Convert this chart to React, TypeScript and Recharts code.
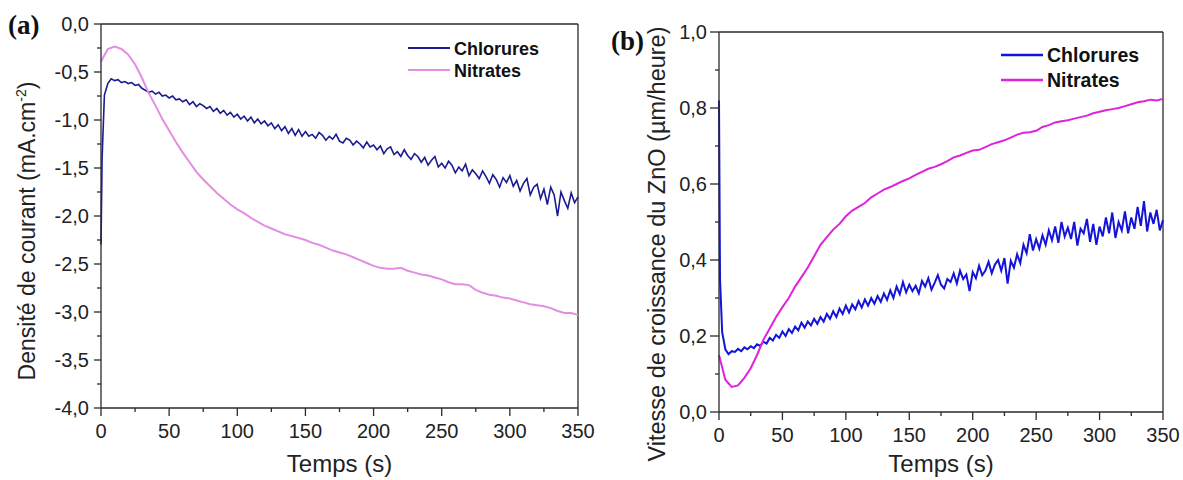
import React from 'react';
import { LineChart, Line, XAxis, YAxis, ReferenceLine, Legend } from 'recharts';

const FONT = 'Arial, "Liberation Sans", Helvetica, sans-serif';
const SERIF = '"Times New Roman", "Liberation Serif", serif';
const AXIS = '#2a2a2a';

// ---------- categories / ticks ----------
const seriesNames = ['Chlorures', 'Nitrates'];
const xTickValues = [0, 25, 50, 75, 100, 125, 150, 175, 200, 225, 250, 275, 300, 325, 350];
const yTickValuesA = [0, -0.25, -0.5, -0.75, -1, -1.25, -1.5, -1.75, -2, -2.25, -2.5, -2.75, -3, -3.25, -3.5, -3.75, -4];
const yTickValuesB = [0, 0.1, 0.2, 0.3, 0.4, 0.5, 0.6, 0.7, 0.8, 0.9, 1];

// sample times (s)
const noisyTimes = [0, 0.8, ...Array.from({ length: 140 }, (_, i) => (i + 1) * 2.5)];
const smoothTimes = Array.from({ length: 71 }, (_, i) => i * 5);

// ---------- (a) current density (mA.cm-2) ----------
const chloruresA = [
  -2.3, -1.4,
  -0.74, -0.62, -0.57, -0.59, -0.58, -0.61, -0.60, -0.62, -0.61, -0.64,
  -0.63, -0.67, -0.69, -0.71, -0.70, -0.73, -0.71, -0.75, -0.74, -0.77,
  -0.75, -0.79, -0.78, -0.81, -0.79, -0.84, -0.81, -0.86, -0.83, -0.85,
  -0.88, -0.86, -0.91, -0.88, -0.93, -0.90, -0.95, -0.92, -0.97, -0.94,
  -0.99, -0.96, -1.01, -0.97, -1.03, -0.99, -1.04, -1.01, -1.06, -1.03,
  -1.09, -1.05, -1.11, -1.07, -1.14, -1.09, -1.16, -1.10, -1.17, -1.12,
  -1.17, -1.15, -1.19, -1.13, -1.16, -1.21, -1.17, -1.20, -1.15, -1.22,
  -1.24, -1.19, -1.21, -1.26, -1.22, -1.25, -1.29, -1.23, -1.28, -1.26,
  -1.31, -1.27, -1.35, -1.30, -1.28, -1.36, -1.33, -1.38, -1.31, -1.37,
  -1.41, -1.35, -1.38, -1.44, -1.39, -1.47, -1.42, -1.38, -1.49, -1.45,
  -1.50, -1.43, -1.47, -1.55, -1.49, -1.53, -1.46, -1.58, -1.52, -1.56,
  -1.61, -1.53, -1.59, -1.66, -1.57, -1.62, -1.70, -1.60, -1.65, -1.58,
  -1.69, -1.63, -1.74, -1.66, -1.61, -1.78, -1.70, -1.67, -1.82, -1.72,
  -1.88, -1.70, -1.78, -2.00, -1.75, -1.84, -1.92, -1.76, -1.86, -1.80,
];

const nitratesA = [
  -0.39, -0.26, -0.235, -0.26, -0.32, -0.42, -0.56, -0.72, -0.85, -0.99,
  -1.11, -1.23, -1.34, -1.44, -1.54, -1.62, -1.69, -1.76, -1.82, -1.88,
  -1.93, -1.97, -2.02, -2.06, -2.10, -2.13, -2.16, -2.19, -2.21, -2.23,
  -2.25, -2.28, -2.30, -2.33, -2.36, -2.38, -2.40, -2.43, -2.46, -2.49,
  -2.52, -2.54, -2.55, -2.55, -2.54, -2.57, -2.59, -2.61, -2.62, -2.64,
  -2.66, -2.69, -2.71, -2.71, -2.72, -2.77, -2.80, -2.82, -2.83, -2.85,
  -2.86, -2.88, -2.90, -2.92, -2.93, -2.94, -2.96, -2.99, -3.01, -3.01,
  -3.03,
];

// ---------- (b) growth rate (µm/heure) ----------
const chloruresB = [
  0.82, 0.35,
  0.21, 0.165, 0.152, 0.160, 0.158, 0.166, 0.160, 0.170, 0.165, 0.173,
  0.168, 0.178, 0.174, 0.185, 0.180, 0.195, 0.188, 0.203, 0.195, 0.212,
  0.200, 0.218, 0.208, 0.225, 0.215, 0.235, 0.222, 0.238, 0.228, 0.245,
  0.232, 0.250, 0.238, 0.258, 0.245, 0.265, 0.250, 0.272, 0.258, 0.280,
  0.262, 0.283, 0.270, 0.292, 0.275, 0.296, 0.280, 0.300, 0.285, 0.305,
  0.290, 0.312, 0.295, 0.320, 0.300, 0.330, 0.310, 0.342, 0.315, 0.335,
  0.318, 0.332, 0.312, 0.345, 0.330, 0.352, 0.322, 0.340, 0.360, 0.335,
  0.325, 0.350, 0.342, 0.365, 0.338, 0.372, 0.350, 0.362, 0.318, 0.368,
  0.352, 0.385, 0.360, 0.372, 0.395, 0.365, 0.388, 0.400, 0.372, 0.405,
  0.338, 0.398, 0.380, 0.415, 0.392, 0.440, 0.418, 0.468, 0.425, 0.455,
  0.430, 0.465, 0.440, 0.478, 0.452, 0.488, 0.445, 0.500, 0.462, 0.485,
  0.455, 0.500, 0.438, 0.482, 0.470, 0.508, 0.448, 0.495, 0.440, 0.488,
  0.462, 0.512, 0.470, 0.525, 0.458, 0.500, 0.478, 0.528, 0.470, 0.512,
  0.482, 0.540, 0.490, 0.555, 0.475, 0.525, 0.495, 0.532, 0.478, 0.505,
];

const nitratesB = [
  0.15, 0.085, 0.066, 0.07, 0.09, 0.115, 0.15, 0.19, 0.22, 0.25,
  0.276, 0.30, 0.33, 0.355, 0.38, 0.41, 0.44, 0.46, 0.48, 0.495,
  0.515, 0.53, 0.54, 0.55, 0.565, 0.575, 0.585, 0.592, 0.60, 0.608,
  0.615, 0.624, 0.632, 0.64, 0.645, 0.652, 0.66, 0.67, 0.675, 0.682,
  0.688, 0.69, 0.697, 0.705, 0.71, 0.715, 0.722, 0.73, 0.735, 0.736,
  0.74, 0.75, 0.755, 0.762, 0.765, 0.768, 0.772, 0.776, 0.78, 0.786,
  0.79, 0.794, 0.797, 0.80, 0.805, 0.81, 0.815, 0.818, 0.822, 0.82,
  0.824,
];

const toData = (ts: number[], vs: number[]) => ts.map((t, i) => ({ t, v: vs[i] }));

const colorsA = ['#1b1b92', '#e38ee3'];
const colorsB = ['#1414d8', '#de22de'];

const fmt = (v: number) => (Math.abs(v) < 1e-9 ? 0 : v).toFixed(1).replace('.', ',');
const isMult = (v: number, s: number) => Math.abs(v / s - Math.round(v / s)) < 1e-6;

const makeXTick = (majorLen: number, minorLen: number) => (props: any) => {
  const { x, y, payload } = props;
  const v = payload.value;
  const major = isMult(v, 50);
  return (
    <g>
      <line x1={x} x2={x} y1={y} y2={y + (major ? majorLen : minorLen)} stroke={AXIS} strokeWidth={1.3} />
      {major && (
        <text x={x} y={y + 30} textAnchor="middle" fontSize={20} fontFamily={FONT} fill="#222">
          {v}
        </text>
      )}
    </g>
  );
};

const makeYTick = (step: number, majorLen: number, minorLen: number) => (props: any) => {
  const { x, y, payload } = props;
  const v = payload.value;
  const major = isMult(v, step);
  return (
    <g>
      <line x1={x - (major ? majorLen : minorLen)} x2={x} y1={y} y2={y} stroke={AXIS} strokeWidth={1.3} />
      {major && (
        <text x={x - 12} y={y + 7} textAnchor="end" fontSize={20} fontFamily={FONT} fill="#222">
          {fmt(v)}
        </text>
      )}
    </g>
  );
};

const XTitle = ({ cx }: any) => (
  <text x={cx} y={472} textAnchor="middle" fontSize={24} fontFamily={FONT} fill="#222">
    Temps (s)
  </text>
);

const YTitleA = () => (
  <text x={35} y={231} transform="rotate(-90 35 231)" textAnchor="middle" fontSize={23} fontFamily={FONT} fill="#222">
    Densité de courant (mA.cm<tspan dy={-9} fontSize={14}>-2</tspan>
    <tspan dy={9}>)</tspan>
  </text>
);

const YTitleB = () => (
  <text x={75} y={244} transform="rotate(-90 75 244)" textAnchor="middle" fontSize={23.5} fontFamily={FONT} fill="#222">
    Vitesse de croissance du ZnO (µm/heure)
  </text>
);

const makeLegend = (colors: string[], lineX: number, lineLen: number, ys: number[], fs: number, sw: number) => () => (
  <svg width={200} height={70} style={{ display: 'block' }}>
    {seriesNames.map((n, i) => (
      <g key={n}>
        <line x1={lineX} x2={lineX + lineLen} y1={ys[i]} y2={ys[i]} stroke={colors[i]} strokeWidth={sw} />
        <text x={lineX + lineLen + 4} y={ys[i] + 7} fontSize={fs} fontWeight="bold" fontFamily={FONT} fill="#111">
          {n}
        </text>
      </g>
    ))}
  </svg>
);

const LegendA = makeLegend(colorsA, 8, 42, [18, 40], 18, 2);
const LegendB = makeLegend(colorsB, 11, 42, [20, 45], 19.5, 2.5);

export default function App() {
  const dataA = [toData(noisyTimes, chloruresA), toData(smoothTimes, nitratesA)];
  const dataB = [toData(noisyTimes, chloruresB), toData(smoothTimes, nitratesB)];
  return (
    <div style={{ position: 'absolute', left: 0, top: 0, width: 1183, height: 480, background: '#fff' }}>
      <div style={{ position: 'absolute', left: 0, top: 0 }}>
        <LineChart width={606} height={480} margin={{ top: 24, right: 28, left: 0, bottom: 0 }}>
          <XAxis
            dataKey="t"
            type="number"
            domain={[0, 350]}
            ticks={xTickValues}
            interval={0}
            height={72}
            tickSize={0}
            tickMargin={0}
            tickLine={false}
            axisLine={{ stroke: AXIS, strokeWidth: 1.3 }}
            tick={makeXTick(8, 4)}
            label={<XTitle cx={339.5} />}
          />
          <YAxis
            type="number"
            domain={[-4, 0]}
            ticks={yTickValuesA}
            interval={0}
            width={101}
            tickSize={0}
            tickMargin={0}
            tickLine={false}
            axisLine={{ stroke: AXIS, strokeWidth: 1.3 }}
            tick={makeYTick(0.5, 7, 4)}
            label={<YTitleA />}
          />
          <ReferenceLine y={0} stroke={AXIS} strokeWidth={1.3} />
          <ReferenceLine x={350} stroke={AXIS} strokeWidth={1.3} />
          {seriesNames.map((n, i) => (
            <Line
              key={n}
              name={n}
              data={dataA[i]}
              dataKey="v"
              type="linear"
              stroke={colorsA[i]}
              strokeWidth={i === 0 ? 1.6 : 2}
              dot={false}
              activeDot={false}
              isAnimationActive={false}
            />
          ))}
          <Legend
            layout="horizontal"
            verticalAlign="middle"
            content={LegendA}
            wrapperStyle={{ position: 'absolute', left: 400, top: 30, width: 200, height: 70 }}
          />
        </LineChart>
      </div>
      <div style={{ position: 'absolute', left: 590, top: 0 }}>
        <LineChart width={593} height={480} margin={{ top: 32, right: 20, left: 0, bottom: 0 }}>
          <XAxis
            dataKey="t"
            type="number"
            domain={[0, 350]}
            ticks={xTickValues}
            interval={0}
            height={68}
            tickSize={0}
            tickMargin={0}
            tickLine={false}
            axisLine={{ stroke: AXIS, strokeWidth: 1.3 }}
            tick={makeXTick(8, 4)}
            label={<XTitle cx={351} />}
          />
          <YAxis
            type="number"
            domain={[0, 1]}
            ticks={yTickValuesB}
            interval={0}
            width={129}
            tickSize={0}
            tickMargin={0}
            tickLine={false}
            axisLine={{ stroke: AXIS, strokeWidth: 1.3 }}
            tick={makeYTick(0.2, 9, 4)}
            label={<YTitleB />}
          />
          <ReferenceLine y={1} stroke={AXIS} strokeWidth={1.3} />
          <ReferenceLine x={350} stroke={AXIS} strokeWidth={1.3} />
          {seriesNames.map((n, i) => (
            <Line
              key={n}
              name={n}
              data={dataB[i]}
              dataKey="v"
              type="linear"
              stroke={colorsB[i]}
              strokeWidth={2}
              dot={false}
              activeDot={false}
              isAnimationActive={false}
            />
          ))}
          <Legend
            layout="horizontal"
            verticalAlign="middle"
            content={LegendB}
            wrapperStyle={{ position: 'absolute', left: 400, top: 35, width: 200, height: 70 }}
          />
        </LineChart>
      </div>
      <svg width={1183} height={480} style={{ position: 'absolute', left: 0, top: 0, pointerEvents: 'none' }}>
        <text x={8} y={34} fontSize={27} fontWeight="bold" fontFamily={SERIF} fill="#111">(a)</text>
        <text x={611} y={50} fontSize={27} fontWeight="bold" fontFamily={SERIF} fill="#111">(b)</text>
      </svg>
    </div>
  );
}
